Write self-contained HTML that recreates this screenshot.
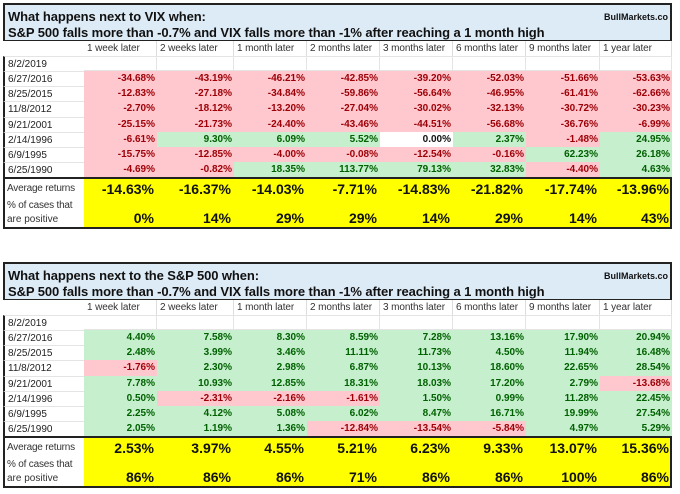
<!DOCTYPE html>
<html><head><meta charset="utf-8">
<style>
body{margin:0;width:680px;height:494px;background:#fff;position:relative;overflow:hidden;font-family:"Liberation Sans",sans-serif;}
.c{position:absolute;box-sizing:border-box;white-space:nowrap;overflow:hidden;}
</style></head><body>
<script>
const cols=["1 week later","2 weeks later","1 month later","2 months later","3 months later","6 months later","9 months later","1 year later"];
const dates=["8/2/2019","6/27/2016","8/25/2015","11/8/2012","9/21/2001","2/14/1996","6/9/1995","6/25/1990"];
const vixVals=[
[-34.68,-43.19,-46.21,-42.85,-39.20,-52.03,-51.66,-53.63],
[-12.83,-27.18,-34.84,-59.86,-56.64,-46.95,-61.41,-62.66],
[-2.70,-18.12,-13.20,-27.04,-30.02,-32.13,-30.72,-30.23],
[-25.15,-21.73,-24.40,-43.46,-44.51,-56.68,-36.76,-6.99],
[-6.61,9.30,6.09,5.52,0.00,2.37,-1.48,24.95],
[-15.75,-12.85,-4.00,-0.08,-12.54,-0.16,62.23,26.18],
[-4.69,-0.82,18.35,113.77,79.13,32.83,-4.40,4.63]];
const vixAvg=[-14.63,-16.37,-14.03,-7.71,-14.83,-21.82,-17.74,-13.96];
const vixPos=[0,14,29,29,14,29,14,43];
const spxVals=[
[4.40,7.58,8.30,8.59,7.28,13.16,17.90,20.94],
[2.48,3.99,3.46,11.11,11.73,4.50,11.94,16.48],
[-1.76,2.30,2.98,6.87,10.13,18.60,22.65,28.54],
[7.78,10.93,12.85,18.31,18.03,17.20,2.79,-13.68],
[0.50,-2.31,-2.16,-1.61,1.50,0.99,11.28,22.45],
[2.25,4.12,5.08,6.02,8.47,16.71,19.99,27.54],
[2.05,1.19,1.36,-12.84,-13.54,-5.84,4.97,5.29]];
const spxAvg=[2.53,3.97,4.55,5.21,6.23,9.33,13.07,15.36];
const spxPos=[86,86,86,71,86,86,100,86];

const X=[3,84,157,234,307,380,453,526,600,672];
function cell(x,y,w,h,css,txt,name){
  const d=document.createElement('div');d.className='c';
  d.style.cssText=`left:${x}px;top:${y}px;width:${w}px;height:${h}px;`+css;
  if(txt!==undefined)d.textContent=txt;
  
  
  document.body.appendChild(d);return d;
}
function table(top,title1,vals,avg,pos,prefix){
  const R=672,L=3;
  cell(L,top,R-L,38,'background:#ddebf7;border:2px solid #222;border-bottom:1.5px solid #222;','',prefix+'-title-bar');
  cell(L+5,top+5,520,17,'font-weight:bold;font-size:13px;color:#111;line-height:17px;letter-spacing:-0.1px;',title1,prefix+'-title');
  cell(L+5,top+21,560,17,'font-weight:bold;font-size:13px;color:#111;line-height:17px;letter-spacing:-0.1px;','S&P 500 falls more than -0.7% and VIX falls more than -1% after reaching a 1 month high',prefix+'-subtitle');
  cell(590,top+9,78,14,'font-weight:bold;font-size:9px;color:#111;text-align:right;','BullMarkets.co',prefix+'-source');
  const hy=top+38;
  const ry=r=>hy+Math.round(15.1*r);
  for(let i=0;i<8;i++){
    cell(X[i+1],hy,X[i+2]-X[i+1],15,'border-right:1px solid #ddd;font-size:10px;color:#333;padding-left:3px;line-height:15px;letter-spacing:-0.1px;',cols[i],prefix+'-col-header');
  }
  for(let r=0;r<dates.length;r++){
    const y=ry(r+1),h=ry(r+2)-y;
    cell(L,y,X[1]-L,h,'border-left:2px solid #222;border-top:1px solid #e4e4e4;font-size:10px;color:#222;padding-left:3px;line-height:15px;',dates[r],prefix+'-date-label');
    for(let i=0;i<8;i++){
      let css=`font-size:10px;font-weight:bold;text-align:right;padding-right:2px;line-height:${h}px;`;
      let t='';
      if(r===0){css+='border:1px solid #e4e4e4;border-left:none;';}
      else{
        const v=vals[r-1][i];t=v.toFixed(2)+'%';
        if(v<0)css+='background:#ffc7ce;color:#9c0006;';
        else if(v>0)css+='background:#c6efce;color:#006100;';
        else css+='background:#fff;color:#111;';
      }
      cell(X[i+1],y,X[i+2]-X[i+1],h,css,t,prefix+'-value-cell');
    }
  }
  const ay=ry(9)+1;
  cell(L,ay-1,R-L,2,'background:#222;','',prefix+'-divider');
  cell(L,ay+1,R-L,50,'border:2px solid #222;border-top:none;','',prefix+'-summary-box');
  cell(L+2,ay+1,X[1]-L-2,20,'font-size:10px;color:#333;padding-left:2px;line-height:20px;letter-spacing:-0.2px;','Average returns',prefix+'-avg-label');
  cell(L+2,ay+21,X[1]-L-2,14,'font-size:10px;color:#333;padding-left:2px;line-height:14px;letter-spacing:-0.2px;','% of cases that',prefix+'-pos-label');
  cell(L+2,ay+35,X[1]-L-2,14,'font-size:10px;color:#333;padding-left:2px;line-height:14px;','are positive',prefix+'-pos-label2');
  cell(X[1],ay+1,R-X[1]-2,48,'background:#ffff00;','',prefix+'-yellow');
  for(let i=0;i<8;i++){
    cell(X[i+1],ay+1,X[i+2]-X[i+1],20,'font-size:14px;font-weight:bold;color:#111;text-align:right;padding-right:3px;line-height:20px;',avg[i].toFixed(2)+'%',prefix+'-avg-value');
    cell(X[i+1],ay+31,X[i+2]-X[i+1],18,'font-size:14px;font-weight:bold;color:#111;text-align:right;padding-right:3px;line-height:18px;',pos[i]+'%',prefix+'-pos-value');
  }
}
table(3,'What happens next to VIX when:',vixVals,vixAvg,vixPos,'vix');
table(262,'What happens next to the S&P 500 when:',spxVals,spxAvg,spxPos,'spx');
</script>
</body></html>
